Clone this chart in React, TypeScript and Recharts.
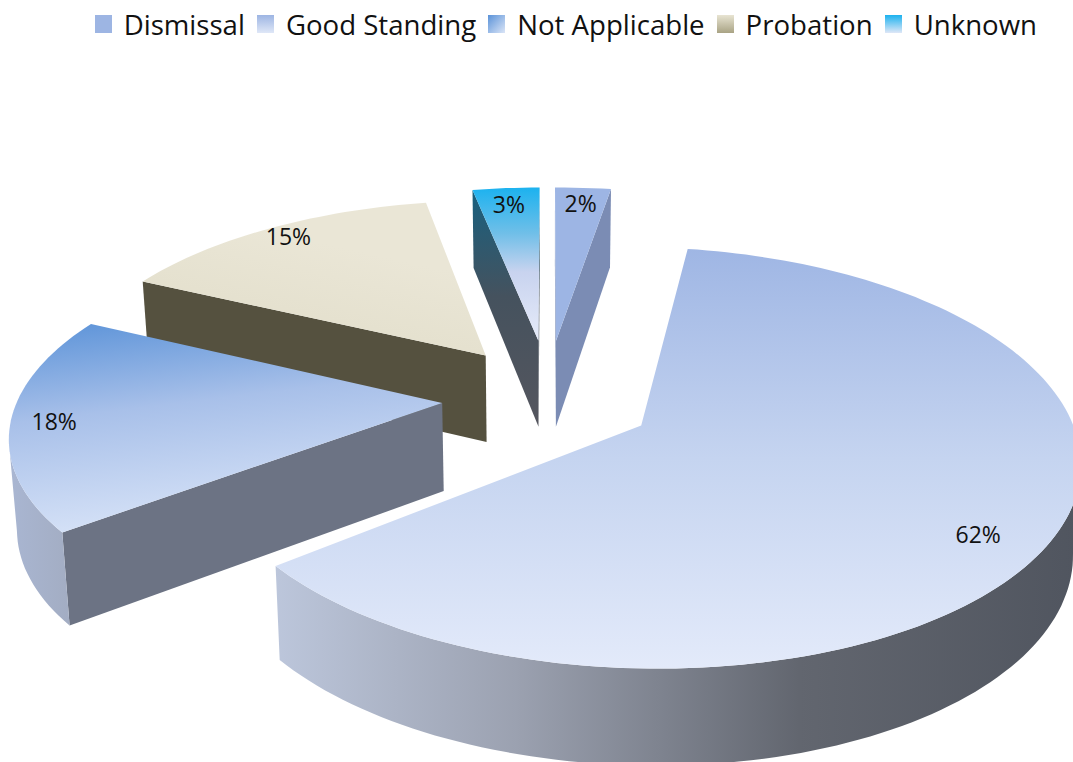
import { PieChart, Pie, Legend } from "recharts";

const names = ["Unknown", "Probation", "Not Applicable", "Good Standing", "Dismissal"];
const values = [3, 14.7, 17.9, 61.9, 2.5];
const labels = ["3%", "15%", "18%", "62%", "2%"];
const legendOrder = ["Dismissal", "Good Standing", "Not Applicable", "Probation", "Unknown"];

const chartData = names.map((name, i) => ({ name, value: values[i] }));

const WIDTH = 1073;
const HEIGHT = 762;
const LEGEND_HEIGHT = 48;
const TILT = 0.445; // vertical squash of the pie plane
const PERSPECTIVE_X = 0.15;
const PERSPECTIVE_Y = 0.15;
const EXPLODE = 0.25;
const FONT = "'Open Sans', sans-serif";

// per slice corrections, the plain projection leaves these a bit high
const NUDGE: Record<string, number> = { "Good Standing": 12, "Not Applicable": 10, Probation: 4, Unknown: -2, Dismissal: -2 };
const TILT_SCALE: Record<string, number> = { "Good Standing": 1.05 };
const LABEL_RADIUS: Record<string, number> = { "Good Standing": 0.83 };
const LABEL_NUDGE: Record<string, number> = { "Good Standing": 34, "Not Applicable": 10 };

const TOP_FILL: Record<string, string> = {
  Dismissal: "url(#topDismissal)",
  "Good Standing": "url(#topGood)",
  "Not Applicable": "url(#topNa)",
  Probation: "url(#topProbation)",
  Unknown: "url(#topUnknown)",
};

const CUT_FILL: Record<string, string> = {
  Dismissal: "#7b8cb4",
  "Good Standing": "#6c7384",
  "Not Applicable": "#6c7384",
  Probation: "#55513f",
  Unknown: "url(#cutUnknown)",
};

const WALL_FILL: Record<string, string> = {
  Dismissal: "#7b8cb4",
  "Good Standing": "url(#wallGood)",
  "Not Applicable": "url(#wallNa)",
  Probation: "#55513f",
  Unknown: "#55565e",
};

type Pt = { x: number; y: number };

function project(cx: number, cy: number, radius: number, u: number, v: number, nudge: number, scale = 1) {
  const top = {
    x: cx + (radius * u) / (1 + PERSPECTIVE_X * v),
    y: cy - (radius * TILT * scale * v) / (1 + PERSPECTIVE_Y * v) + nudge,
  };
  const bottom = {
    x: cx + (top.x - cx) * 0.985,
    y: top.y + 88 - 8 * v,
  };
  return { top, bottom };
}

const rad = (d: number) => (d * Math.PI) / 180;

function outline(points: Pt[]) {
  return points.map((p, i) => `${i ? "L" : "M"}${p.x.toFixed(1)},${p.y.toFixed(1)}`).join(" ") + " Z";
}

function SliceShape(props: any) {
  const { cx, cy, outerRadius, startAngle, endAngle, midAngle, name } = props;
  const from = 90 - Math.max(startAngle, endAngle);
  const to = 90 - Math.min(startAngle, endAngle);
  const mid = 90 - midAngle;
  const ox = EXPLODE * Math.sin(rad(mid));
  const oy = EXPLODE * Math.cos(rad(mid));
  const nudge = NUDGE[name] ?? 0;
  const scale = TILT_SCALE[name] ?? 1;

  const apex = project(cx, cy, outerRadius, ox, oy, nudge, scale);
  const arc: { top: Pt; bottom: Pt }[] = [];
  const steps = Math.max(6, Math.ceil((to - from) / 1.5));
  for (let i = 0; i <= steps; i++) {
    const t = rad(from + ((to - from) * i) / steps);
    arc.push(project(cx, cy, outerRadius, ox + Math.sin(t), oy + Math.cos(t), nudge, scale));
  }
  const first = arc[0];
  const last = arc[arc.length - 1];

  // a wall faces the viewer where x falls along the clockwise outline
  const visibleArc: { top: Pt; bottom: Pt }[] = [];
  arc.forEach((p, i) => {
    const prev = arc[i - 1];
    const next = arc[i + 1];
    if ((next && next.top.x < p.top.x) || (prev && p.top.x < prev.top.x)) visibleArc.push(p);
  });

  return (
    <g>
      {first.top.x < apex.top.x && (
        <path d={outline([apex.top, first.top, first.bottom, apex.bottom])} fill={CUT_FILL[name]} />
      )}
      {apex.top.x < last.top.x && (
        <path d={outline([last.top, apex.top, apex.bottom, last.bottom])} fill={CUT_FILL[name]} />
      )}
      {visibleArc.length > 1 && (
        <path
          d={outline([...visibleArc.map((p) => p.top), ...visibleArc.map((p) => p.bottom).reverse()])}
          fill={WALL_FILL[name]}
        />
      )}
      <path d={outline([apex.top, ...arc.map((p) => p.top)])} fill={TOP_FILL[name]} />
    </g>
  );
}

function SliceLabel(props: any) {
  const { cx, cy, outerRadius, midAngle, index, name } = props;
  const t = rad(90 - midAngle);
  const r = LABEL_RADIUS[name] ?? 0.9;
  const u = (EXPLODE + r) * Math.sin(t);
  const v = (EXPLODE + r) * Math.cos(t);
  const p = project(cx, cy, outerRadius, u, v, LABEL_NUDGE[name] ?? 0);
  return (
    <text x={p.top.x} y={p.top.y} textAnchor="middle" dominantBaseline="central" fontFamily={FONT} fontSize={23} fill="#111">
      {labels[index]}
    </text>
  );
}

const LEGEND_SWATCH: Record<string, string> = {
  Dismissal: "#9db5e3",
  "Good Standing": "url(#swGood)",
  "Not Applicable": "url(#swNa)",
  Probation: "url(#swProbation)",
  Unknown: "url(#swUnknown)",
};

function ChartLegend() {
  return (
    <div style={{ display: "flex", justifyContent: "flex-end", paddingRight: 36, gap: 12, fontFamily: FONT, fontSize: 27.6, color: "#111", lineHeight: `${LEGEND_HEIGHT}px`, height: LEGEND_HEIGHT }}>
      {legendOrder.map((n) => (
        <span key={n} style={{ display: "inline-flex", alignItems: "center", gap: 12 }}>
          <svg width={17} height={18}>
            <rect width={17} height={18} fill={LEGEND_SWATCH[n]} />
          </svg>
          {n}
        </span>
      ))}
    </div>
  );
}

function ramp(id: string, stops: [number, string][], x2 = 0, y2 = 1) {
  return (
    <linearGradient id={id} x1={0} y1={0} x2={x2} y2={y2}>
      {stops.map(([o, c]) => (
        <stop key={o} offset={o} stopColor={c} />
      ))}
    </linearGradient>
  );
}

export default function App() {
  return (
    <div style={{ position: "absolute", left: 0, top: 0, width: WIDTH, height: HEIGHT, background: "#fff" }}>
      <PieChart width={WIDTH} height={HEIGHT} margin={{ top: 0, right: 0, bottom: 0, left: 0 }}>
        <defs>
          {ramp("topDismissal", [[0, "#9db5e4"], [1, "#9db5e4"]])}
          {ramp("topGood", [[0, "#9fb6e4"], [0.5, "#c5d4f0"], [1, "#e3eafa"]])}
          {ramp("topNa", [[0, "#5a92d8"], [0.45, "#a8c0e9"], [1, "#d6e2f7"]], 0.25, 1)}
          {ramp("topProbation", [[0, "#eae6d6"], [0.55, "#e3dfcc"], [1, "#b5b090"]], -0.5, 1)}
          {ramp("topUnknown", [[0, "#1cb2ef"], [0.3, "#70bfe8"], [0.55, "#c8d3ef"], [1, "#e6ebf9"]])}
          {ramp("cutUnknown", [[0, "#17607f"], [0.45, "#45525e"], [1, "#55565e"]])}
          {ramp("wallGood", [[0, "#bcc6db"], [0.3, "#9ba1b0"], [0.65, "#62666f"], [1, "#50555f"]], 1, 0)}
          {ramp("wallNa", [[0, "#a9b6d2"], [1, "#a3adc3"]], 1, 0)}
          {ramp("swGood", [[0, "#9db5e3"], [1, "#dfe7f7"]])}
          {ramp("swNa", [[0, "#5a92d8"], [1, "#dbe5f7"]], 1, 1)}
          {ramp("swProbation", [[0, "#e8e4d2"], [1, "#a9a384"]])}
          {ramp("swUnknown", [[0, "#1cb2ef"], [1, "#dfe7f7"]])}
        </defs>
        <Legend verticalAlign="top" align="right" width={WIDTH} content={<ChartLegend />} />
        <Pie
          data={chartData}
          dataKey="value"
          nameKey="name"
          cx={548}
          cy={388 - LEGEND_HEIGHT}
          innerRadius={0}
          outerRadius={424}
          startAngle={90}
          endAngle={450}
          stroke="none"
          shape={SliceShape}
          label={SliceLabel}
          labelLine={false}
          isAnimationActive={false}
        />
      </PieChart>
    </div>
  );
}
